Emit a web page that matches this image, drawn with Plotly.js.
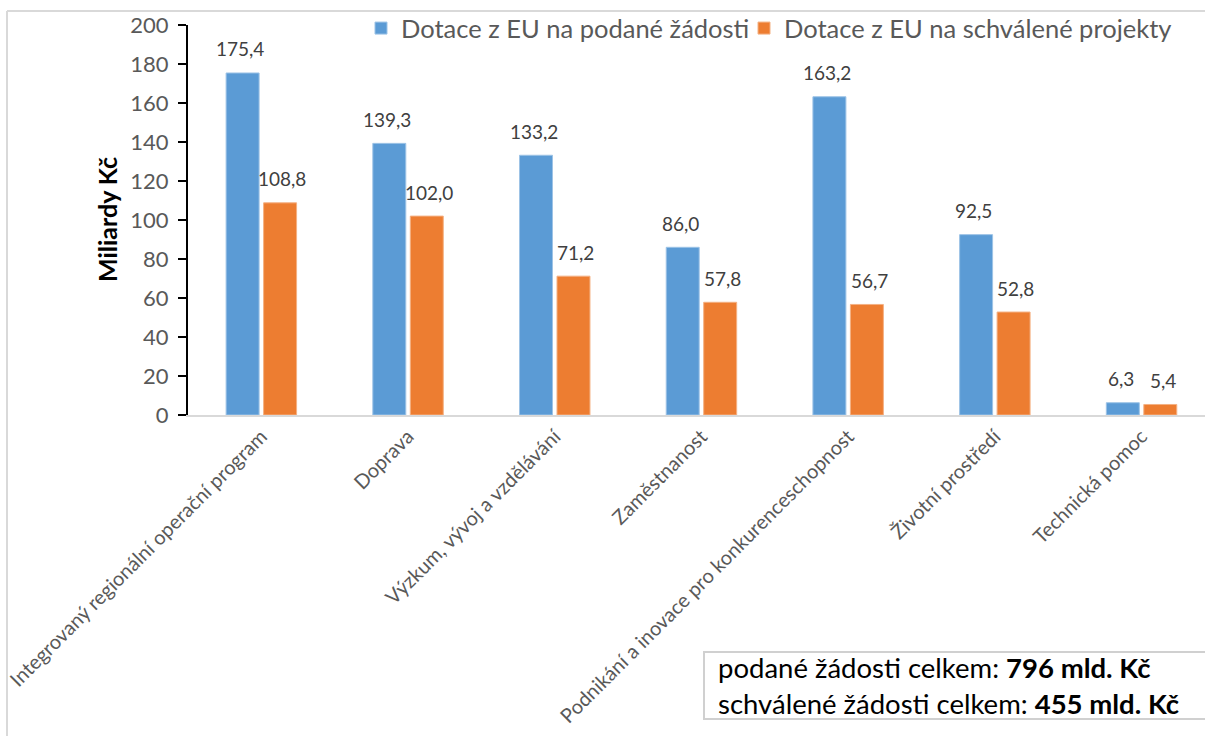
<!DOCTYPE html>
<html>
<head>
<meta charset="utf-8">
<script src="https://cdn.plot.ly/plotly-3.0.1.min.js"></script>
<style>
  html, body { margin: 0; padding: 0; background: #ffffff; }
  #chart { width: 1205px; height: 736px; }
</style>
</head>
<body>
<div id="chart"></div>
<script>
const categories = [
  "Integrovaný regionální operační program",
  "Doprava",
  "Výzkum, vývoj a vzdělávání",
  "Zaměstnanost",
  "Podnikání a inovace pro konkurenceschopnost",
  "Životní prostředí",
  "Technická pomoc"
];
const submitted = [175.4, 139.3, 133.2, 86.0, 163.2, 92.5, 6.3];
const approved = [108.8, 102.0, 71.2, 57.8, 56.7, 52.8, 5.4];
const seriesNames = ["Dotace z EU na podané žádosti", "Dotace z EU na schválené projekty"];
const yTickValues = [0, 20, 40, 60, 80, 100, 120, 140, 160, 180, 200];
const totalsLines = [
  ["podané žádosti celkem: ", "796 mld. Kč"],
  ["schválené žádosti celkem: ", "455 mld. Kč"]
];

const FONT = "Lato, 'Open Sans', sans-serif";
const BLUE = "#5B9BD5";
const ORANGE = "#ED7D31";
const fmt = v => v.toFixed(1).replace(".", ",");

const traces = [
  {
    type: "bar", name: seriesNames[0], x: categories, y: submitted,
    marker: { color: BLUE, line: { color: "#9DC3E6", width: 1 } },
    hoverinfo: "x+y", legend: "legend"
  },
  {
    type: "bar", name: seriesNames[1], x: categories, y: approved,
    marker: { color: ORANGE, line: { color: "#F4B183", width: 1 } },
    hoverinfo: "x+y", legend: "legend2"
  }
];

const annotations = [];
const pushLabels = (vals, shift) => {
  vals.forEach((v, i) => {
    annotations.push({
      x: categories[i], y: v, xref: "x", yref: "y",
      text: fmt(v), showarrow: false,
      xshift: shift, yshift: 24, yanchor: "middle", xanchor: "center",
      font: { family: FONT, size: 19, color: "#404040" }
    });
  });
};
pushLabels(submitted, -21);
pushLabels(approved, 21);

annotations.push({
  xref: "paper", yref: "paper", x: -0.0796, y: 0.5,
  text: "<b>Miliardy Kč</b>", textangle: -90, showarrow: false,
  xanchor: "center", yanchor: "middle",
  font: { family: FONT, size: 25, color: "#000000" }
});

const plotL = 188, plotR = 1205, plotT = 25, plotB = 415;
const px2x = px => (px - plotL) / (plotR - plotL);
const px2y = py => (plotB - py) / (plotB - plotT);
totalsLines.forEach((ln, i) => {
  annotations.push({
    xref: "paper", yref: "paper", x: px2x(716), y: px2y(667 + i * 36),
    xanchor: "left", yanchor: "middle", showarrow: false,
    text: ln[0] + "<b>" + ln[1] + "</b>",
    font: { family: FONT, size: 27.5, color: "#000000" }
  });
});

const shapes = [
  { type: "line", xref: "paper", yref: "paper", x0: px2x(7), x1: px2x(7), y0: px2y(740), y1: px2y(11), line: { color: "#D9D9D9", width: 2 } },
  { type: "line", xref: "paper", yref: "paper", x0: px2x(7), x1: px2x(1210), y0: px2y(11), y1: px2y(11), line: { color: "#D9D9D9", width: 2 } },
  { type: "rect", xref: "paper", yref: "paper", x0: px2x(704), x1: px2x(1215), y0: px2y(719), y1: px2y(652), line: { color: "#D0D0D0", width: 2 }, fillcolor: "rgba(255,255,255,0)" }
];

const legendBase = {
  orientation: "h", xanchor: "left", yanchor: "top", y: px2y(5),
  font: { family: FONT, size: 25.5, color: "#595959" },
  bgcolor: "rgba(0,0,0,0)", itemwidth: 30
};

const layout = {
  width: 1205, height: 736,
  margin: { l: plotL, r: 0, t: plotT, b: 736 - plotB, pad: 0 },
  paper_bgcolor: "#ffffff", plot_bgcolor: "#ffffff",
  font: { family: FONT, color: "#595959" },
  barmode: "group", bargap: 0.489, bargroupgap: 0.12,
  showlegend: true,
  legend: Object.assign({}, legendBase, { x: px2x(361) }),
  legend2: Object.assign({}, legendBase, { x: px2x(744) }),
  xaxis: {
    type: "category", range: [-0.5, -0.5 + (plotR - plotL) / 146.7],
    showline: true, linecolor: "#D9D9D9", linewidth: 2,
    ticks: "", tickangle: -45, showgrid: false, zeroline: false,
    tickfont: { family: FONT, size: 20, color: "#595959" },
    automargin: false, fixedrange: true
  },
  yaxis: {
    range: [0, 200], tickvals: yTickValues, ticktext: yTickValues.map(String),
    showline: true, linecolor: "#000000", linewidth: 2,
    ticks: "outside", ticklen: 8, tickwidth: 2, tickcolor: "#000000",
    ticklabelstandoff: 5,
    showgrid: false, zeroline: false,
    tickfont: { family: FONT, size: 22, color: "#595959" },
    title: { text: "" }, automargin: false, fixedrange: true
  },
  annotations: annotations,
  shapes: shapes
};

Plotly.newPlot("chart", traces, layout, { staticPlot: true, displayModeBar: false });
</script>
</body>
</html>
